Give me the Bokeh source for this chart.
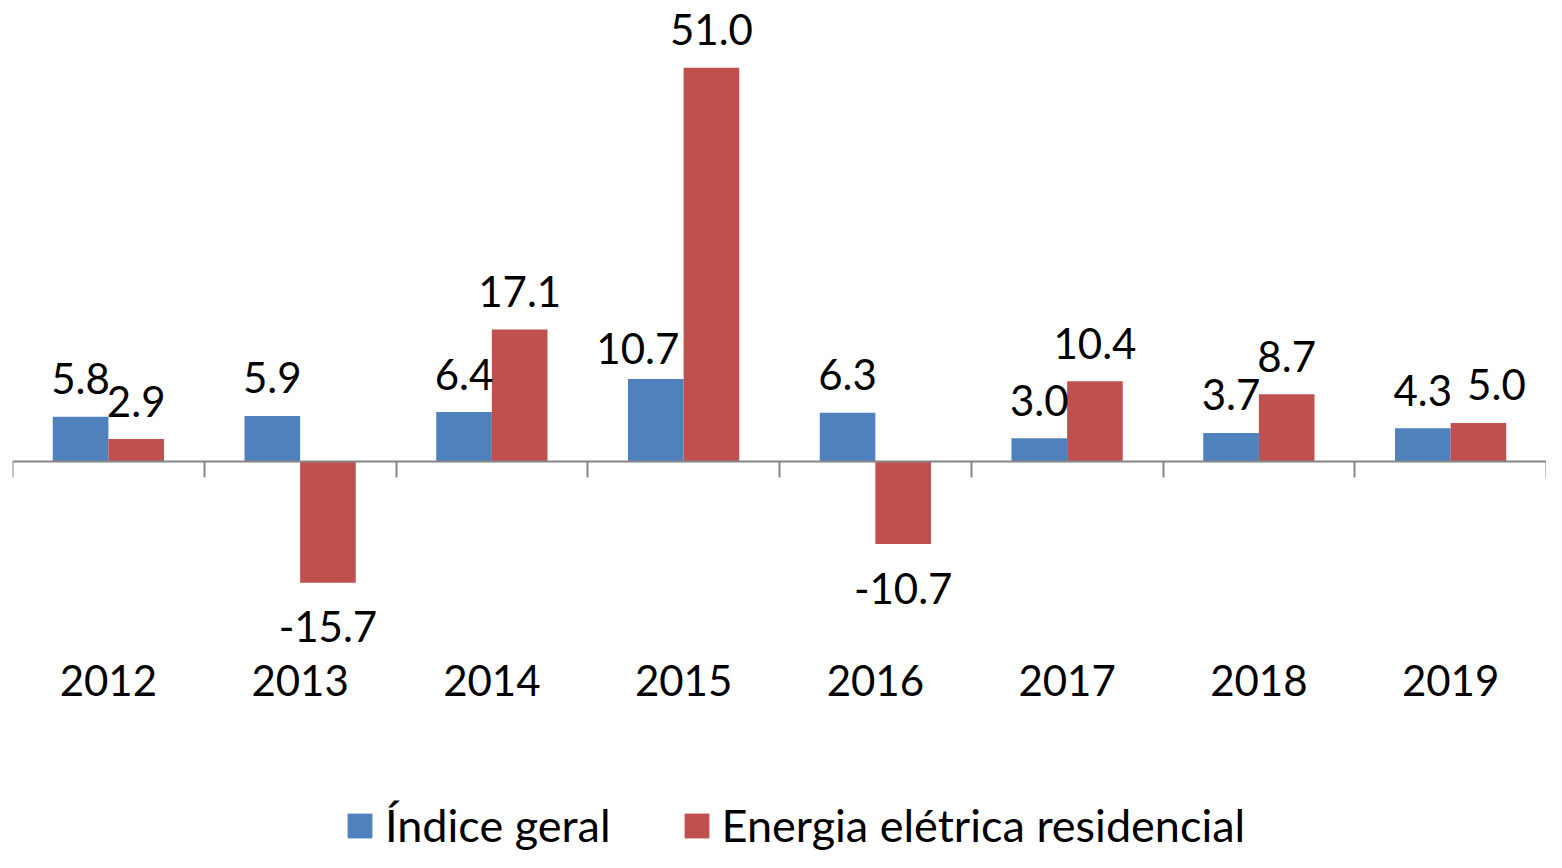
import numpy as np
from bokeh.plotting import figure
from bokeh.models import (ColumnDataSource, Range1d, LinearAxis, FixedTicker,
                          Legend, LegendItem)
from bokeh.core.properties import value
from bokeh.embed import file_html
from bokeh.resources import INLINE

# ---- data ----
years = ["2012", "2013", "2014", "2015", "2016", "2017", "2018", "2019"]
indice_geral = [5.8, 5.9, 6.4, 10.7, 6.3, 3.0, 3.7, 4.3]
energia_residencial = [2.9, -15.7, 17.1, 51.0, -10.7, 10.4, 8.7, 5.0]
series_names = ["Índice geral", "Energia elétrica residencial"]

# ---- style ----
BLUE = "#4F81BD"
RED = "#C0504D"
AXIS_GRAY = "#868686"
FONT = "Lato"
FS = "42px"
BAR_W = 0.29
HALF = BAR_W / 2
POS_DY = -38   # label offset above positive bars (px)
NEG_DY = 44    # label offset below negative bars (px)
# label nudges (pixels) to avoid overlaps, as in the original
nudge_x_ind = [0, 0, 0, -18, 0, 0, 0, 0]
nudge_y_ind = [0, 0, 0, 8, 0, 0, 0, 0]
nudge_x_en = [0, 0, 0, 0, 0, 0, 0, 18]
nudge_y_en = [0, 0, 0, 0, 0, 0, 0, 0]

n = len(years)
centers = np.arange(n) + 0.5
bounds = np.arange(n + 1)

p = figure(width=1546, height=852,
           x_range=Range1d(0, n), y_range=Range1d(-50.65, 59.46),
           output_backend="svg", toolbar_location=None,
           x_axis_location=None, y_axis_location=None,
           min_border_left=12, min_border_right=0,
           min_border_top=2, min_border_bottom=0,
           outline_line_color=None)
p.grid.visible = False


def label_source(xs, vals, nx, ny):
    dy = [(POS_DY if v >= 0 else NEG_DY) + d for v, d in zip(vals, ny)]
    return ColumnDataSource(dict(
        x=list(xs), v=list(vals), t=[f"{v:.1f}" for v in vals],
        dx=list(nx), dy=dy))


src_ind = ColumnDataSource(dict(x=list(centers - HALF), v=indice_geral))
src_en = ColumnDataSource(dict(x=list(centers + HALF), v=energia_residencial))

r1 = p.vbar(x="x", top="v", bottom=0, width=BAR_W, source=src_ind,
            fill_color=BLUE, line_color=None)
r2 = p.vbar(x="x", top="v", bottom=0, width=BAR_W, source=src_en,
            fill_color=RED, line_color=None)

# category axis at zero: boundary ticks (minor), year labels at low position
cat_axis = LinearAxis(fixed_location=0,
                      ticker=FixedTicker(ticks=list(centers), minor_ticks=list(bounds)),
                      major_label_overrides={float(c): y for c, y in zip(centers, years)},
                      major_tick_in=0, major_tick_out=0,
                      major_tick_line_color=None,
                      minor_tick_in=0, minor_tick_out=16,
                      minor_tick_line_color=AXIS_GRAY, minor_tick_line_width=2,
                      axis_line_color=AXIS_GRAY, axis_line_width=2,
                      major_label_standoff=187,
                      major_label_text_font=FONT, major_label_text_font_size=FS,
                      major_label_text_color="black")
p.add_layout(cat_axis, "below")

for src in (label_source(centers - HALF, indice_geral, nudge_x_ind, nudge_y_ind),
            label_source(centers + HALF, energia_residencial, nudge_x_en, nudge_y_en)):
    p.text(x="x", y="v", text="t", x_offset="dx", y_offset="dy",
           text_align="center", text_baseline="alphabetic",
           text_font=value(FONT), text_font_size=FS, text_color="black",
           source=src)

legend = Legend(items=[LegendItem(label=series_names[0], renderers=[r1]),
                       LegendItem(label=series_names[1], renderers=[r2])],
                location=(332, 0), orientation="horizontal",
                glyph_width=31, glyph_height=31, label_standoff=10, spacing=70,
                label_text_font=FONT, label_text_font_size="45px",
                label_text_color="black",
                border_line_color=None, background_fill_alpha=0,
                padding=0, margin=0)
p.add_layout(legend)

open("out.html", "w").write(file_html(p, INLINE))
